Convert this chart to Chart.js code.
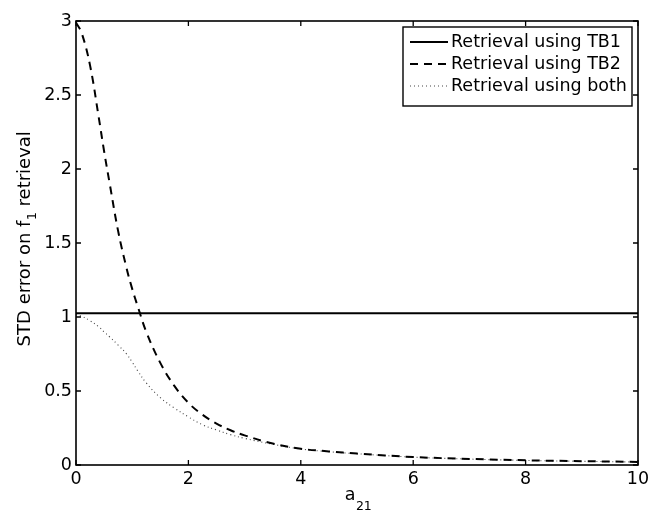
<!DOCTYPE html>
<html>
<head>
<meta charset="utf-8">
<script src="https://cdn.jsdelivr.net/npm/chart.js@4/dist/chart.umd.min.js"></script>
<style>
html,body{margin:0;padding:0;background:#fff;}
#wrap{width:657px;height:515px;}
</style>
</head>
<body>
<div id="wrap"><canvas id="c" width="657" height="515"></canvas></div>
<script>
// ---- data ----
const xTicks = [0, 2, 4, 6, 8, 10];
const yTicks = [0, 0.5, 1, 1.5, 2, 2.5, 3];

const seriesLabels = ["Retrieval using TB1", "Retrieval using TB2", "Retrieval using both"];

const xTB1 = [0, 10];
const yTB1 = [1.025, 1.025];

const xCurve = [0, 0.1, 0.25, 0.4, 0.5, 0.6, 0.75, 0.9, 1.0, 1.1, 1.25, 1.5, 1.75, 2.0, 2.25, 2.5, 2.75, 3.0, 3.5, 4.0, 4.5, 5.0, 6.0, 7.0, 8.0, 9.0, 10.0];
const yTB2 = [2.99, 2.92, 2.70, 2.36, 2.12, 1.90, 1.58, 1.33, 1.19, 1.07, 0.90, 0.69, 0.535, 0.42, 0.34, 0.28, 0.235, 0.20, 0.145, 0.11, 0.092, 0.077, 0.054, 0.041, 0.032, 0.026, 0.021];
const yBoth = [1.015, 1.005, 0.975, 0.935, 0.9, 0.865, 0.81, 0.75, 0.695, 0.635, 0.555, 0.455, 0.385, 0.325, 0.272, 0.237, 0.205, 0.18, 0.14, 0.108, 0.09, 0.076, 0.053, 0.04, 0.031, 0.025, 0.02];

const xTitleMain = "a", xTitleSub = "21";
const yTitleMain1 = "STD error on f", yTitleSub = "1", yTitleMain2 = " retrieval";

// ---- chart ----
const FONT = "'DejaVu Sans', sans-serif";
Chart.defaults.font.family = FONT;
Chart.defaults.font.size = 17.5;
Chart.defaults.color = '#000';

function pts(xs, ys) { return xs.map((x, i) => ({x: x, y: ys[i]})); }

const frame = {
  id: 'matlabFrame',
  afterDraw(chart) {
    const ctx = chart.ctx, a = chart.chartArea;
    const xs = chart.scales.x, ys = chart.scales.y;
    ctx.save();
    ctx.strokeStyle = '#000';
    ctx.lineWidth = 1.6;
    ctx.strokeRect(a.left, a.top, a.right - a.left, a.bottom - a.top);
    ctx.lineWidth = 1.3;
    const tl = 5;
    ctx.beginPath();
    xTicks.forEach(v => {
      const p = xs.getPixelForValue(v);
      ctx.moveTo(p, a.bottom); ctx.lineTo(p, a.bottom - tl);
      ctx.moveTo(p, a.top); ctx.lineTo(p, a.top + tl);
    });
    yTicks.forEach(v => {
      const p = ys.getPixelForValue(v);
      ctx.moveTo(a.left, p); ctx.lineTo(a.left + tl, p);
      ctx.moveTo(a.right, p); ctx.lineTo(a.right - tl, p);
    });
    ctx.stroke();

    // legend
    const bx = 403, by = 27, bw = 229, bh = 79;
    ctx.fillStyle = '#fff';
    ctx.fillRect(bx, by, bw, bh);
    ctx.lineWidth = 1.4;
    ctx.strokeRect(bx, by, bw, bh);
    const rows = [42, 64, 86];
    chart.data.datasets.forEach((ds, i) => {
      const y = rows[i];
      ctx.save();
      ctx.strokeStyle = ds.borderColor;
      ctx.lineWidth = ds.borderWidth;
      ctx.setLineDash(ds.borderDash || []);
      ctx.beginPath();
      ctx.moveTo(410, y); ctx.lineTo(448, y);
      ctx.stroke();
      ctx.restore();
      ctx.fillStyle = '#000';
      ctx.font = '17.5px ' + FONT;
      ctx.textAlign = 'left';
      ctx.textBaseline = 'middle';
      ctx.fillText(ds.label, 451, y);
    });

    // x title
    ctx.textBaseline = 'alphabetic';
    ctx.font = '17.5px ' + FONT;
    const wa = ctx.measureText(xTitleMain).width;
    ctx.font = '12.5px ' + FONT;
    const ws = ctx.measureText(xTitleSub).width;
    let sx = (a.left + a.right) / 2 - (wa + ws) / 2 + 1;
    ctx.font = '17.5px ' + FONT;
    ctx.textAlign = 'left';
    ctx.fillText(xTitleMain, sx, 500);
    ctx.font = '12.5px ' + FONT;
    ctx.fillText(xTitleSub, sx + wa + 0.5, 510);

    // y title
    ctx.save();
    ctx.translate(30, 239);
    ctx.rotate(-Math.PI / 2);
    ctx.font = '18px ' + FONT;
    const w1 = ctx.measureText(yTitleMain1).width;
    const w3 = ctx.measureText(yTitleMain2).width;
    ctx.font = '12.5px ' + FONT;
    const w2 = ctx.measureText(yTitleSub).width;
    const tot = w1 + w2 + w3;
    let u = -tot / 2;
    ctx.textAlign = 'left';
    ctx.font = '18px ' + FONT;
    ctx.fillText(yTitleMain1, u, 0);
    ctx.font = '12.5px ' + FONT;
    ctx.fillText(yTitleSub, u + w1 + 0.5, 6);
    ctx.font = '18px ' + FONT;
    ctx.fillText(yTitleMain2, u + w1 + w2 + 0.5, 0);
    ctx.restore();

    ctx.restore();
  }
};

new Chart(document.getElementById('c'), {
  type: 'scatter',
  data: {
    datasets: [
      { label: seriesLabels[0], data: pts(xTB1, yTB1), showLine: true, borderColor: '#000', borderWidth: 2, pointRadius: 0, borderDash: [] },
      { label: seriesLabels[1], data: pts(xCurve, yTB2), showLine: true, borderColor: '#000', borderWidth: 2, pointRadius: 0, borderDash: [8, 6], tension: 0.4 },
      { label: seriesLabels[2], data: pts(xCurve, yBoth), showLine: true, borderColor: '#444', borderWidth: 1.1, pointRadius: 0, borderDash: [1, 3], tension: 0.4 }
    ]
  },
  options: {
    responsive: false,
    animation: false,
    layout: { padding: { top: 21, right: 19, left: 0, bottom: 0 } },
    plugins: { legend: { display: false }, tooltip: { enabled: false } },
    scales: {
      x: {
        type: 'linear', min: 0, max: 10,
        grid: { display: false, drawTicks: false },
        border: { display: false },
        afterBuildTicks: s => { s.ticks = xTicks.map(v => ({value: v})); },
        ticks: { padding: 4, maxRotation: 0, autoSkip: false, callback: v => String(v) },
        afterFit: s => { s.height = 50; }
      },
      y: {
        type: 'linear', min: 0, max: 3,
        grid: { display: false, drawTicks: false },
        border: { display: false },
        afterBuildTicks: s => { s.ticks = yTicks.map(v => ({value: v})); },
        ticks: { padding: 4, autoSkip: false, callback: v => String(v) },
        afterFit: s => { s.height; s.width = 76; }
      }
    }
  },
  plugins: [frame]
});
</script>
</body>
</html>
